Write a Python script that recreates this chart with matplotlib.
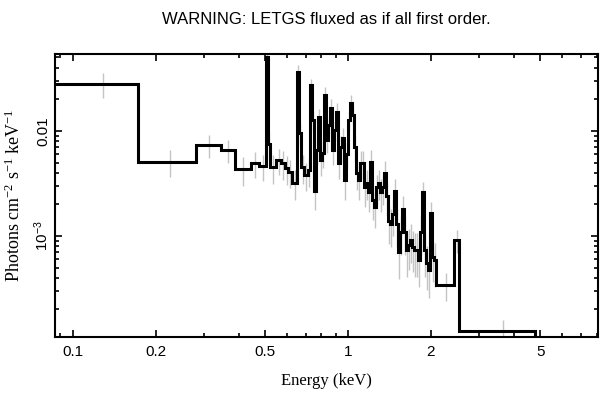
#!/usr/bin/env python3
# LETGS fluxed spectrum, step plot with error bars
import matplotlib
matplotlib.use("Agg")
import matplotlib.pyplot as plt
import numpy as np

# === DATA ===
# bin edges [keV]
edges = [0.084, 0.172, 0.280, 0.345, 0.388, 0.443, 0.475, 0.503, 0.512, 0.520,
         0.547, 0.571, 0.590, 0.605, 0.626, 0.652, 0.663, 0.675, 0.692, 0.715,
         0.727, 0.740, 0.752, 0.765, 0.778, 0.791, 0.804, 0.818, 0.832, 0.846,
         0.860, 0.875, 0.889, 0.904, 0.920, 0.935, 0.951, 0.967, 0.983, 1.000,
         1.017, 1.034, 1.051, 1.069, 1.087, 1.106, 1.124, 1.143, 1.163, 1.182,
         1.202, 1.222, 1.243, 1.264, 1.285, 1.307, 1.329, 1.352, 1.374, 1.398,
         1.421, 1.445, 1.470, 1.494, 1.520, 1.545, 1.571, 1.598, 1.625, 1.652,
         1.680, 1.709, 1.737, 1.767, 1.797, 1.827, 1.858, 1.889, 1.921, 1.954,
         1.987, 2.020, 2.054, 2.089, 2.43, 2.53, 4.79]

# flux per bin [photons cm^-2 s^-1 keV^-1]
flux = [0.028, 0.0051, 0.0073, 0.0066, 0.0043, 0.0049, 0.0046, 0.0507, 0.0075, 0.0045,
        0.0053, 0.0049, 0.0044, 0.0041, 0.0032, 0.0365, 0.0096, 0.0045, 0.0038, 0.0042,
        0.0274, 0.0127, 0.0027, 0.0066, 0.0136, 0.0053, 0.0062, 0.0220, 0.0082, 0.0114,
        0.0166, 0.0066, 0.0102, 0.0152, 0.0050, 0.0070, 0.0086, 0.0034, 0.0060, 0.0127,
        0.0185, 0.0142, 0.0070, 0.0040, 0.0034, 0.0050, 0.0050, 0.0029, 0.0032, 0.0026,
        0.0051, 0.0022, 0.0019, 0.0029, 0.0032, 0.0026, 0.0029, 0.0040, 0.0024, 0.0014,
        0.0013, 0.0016, 0.0027, 0.0013, 0.0007, 0.0011, 0.0018, 0.0011, 0.00074, 0.00082,
        0.00092, 0.00079, 0.00074, 0.00074, 0.00059, 0.0011, 0.0026, 0.00074, 0.00055, 0.00047,
        0.00166, 0.00063, 0.00059, 0.00034, 0.00092, 0.000124]

# relative 1-sigma errors per bin
rel_err = [0.27, 0.28, 0.25, 0.25, 0.30, 0.28, 0.28, 0.12, 0.30, 0.30,
           0.28, 0.30, 0.30, 0.30, 0.32, 0.15, 0.25, 0.30, 0.30, 0.30,
           0.15, 0.22, 0.35, 0.28, 0.20, 0.30, 0.28, 0.18, 0.25, 0.22,
           0.20, 0.28, 0.22, 0.20, 0.30, 0.28, 0.25, 0.35, 0.28, 0.22,
           0.18, 0.20, 0.28, 0.32, 0.35, 0.30, 0.30, 0.35, 0.32, 0.35,
           0.28, 0.35, 0.38, 0.32, 0.32, 0.35, 0.32, 0.28, 0.35, 0.40,
           0.40, 0.38, 0.30, 0.40, 0.45, 0.40, 0.32, 0.40, 0.45, 0.42,
           0.40, 0.42, 0.45, 0.45, 0.45, 0.40, 0.25, 0.45, 0.45, 0.45,
           0.28, 0.42, 0.45, 0.30, 0.25, 0.27]

x_major = [0.1, 0.2, 0.5, 1, 2, 5]
x_major_labels = ["0.1", "0.2", "0.5", "1", "2", "5"]
x_minor = [0.09, 0.3, 0.4, 0.6, 0.7, 0.8, 0.9, 3, 4, 6, 7, 8]
y_major = [1e-3, 1e-2]
y_major_labels = [r"$\mathregular{10^{-3}}$", "0.01"]

TITLE = "WARNING: LETGS fluxed as if all first order."

plt.rcParams["font.family"] = ["Liberation Sans", "DejaVu Sans"]

edges = np.array(edges)
flux = np.array(flux)
centers = 0.5 * (edges[:-1] + edges[1:])
yerr = flux * np.array(rel_err)

fig = plt.figure(figsize=(6.08, 3.99), dpi=100)
ax = fig.add_axes([0.0905, 0.1554, 0.8931, 0.7093])

ax.errorbar(centers, flux, yerr=yerr, fmt="none", ecolor="#c4c4c4",
            elinewidth=1.0, zorder=1)
ax.stairs(flux, edges, baseline=1e-6, color="black", linewidth=2.2, zorder=2)

ax.set_xscale("log")
ax.set_yscale("log")
ax.set_xlim(0.086, 8.1)
ax.set_ylim(1.09e-4, 0.054)

ax.set_xticks(x_major, labels=x_major_labels)
ax.set_xticks(x_minor, minor=True)
ax.set_xticklabels([], minor=True)
ax.set_yticks(y_major, labels=y_major_labels)
ax.yaxis.set_minor_locator(matplotlib.ticker.LogLocator(base=10, subs=np.arange(2, 10)))
ax.yaxis.set_minor_formatter(matplotlib.ticker.NullFormatter())

ax.tick_params(which="both", direction="in", top=True, right=True,
               width=1.2, labelsize=11)
ax.tick_params(which="major", length=5)
ax.tick_params(which="minor", length=3)
ax.tick_params(axis="x", pad=6)
ax.tick_params(axis="y", pad=3)
for lab in ax.get_yticklabels():
    lab.set_rotation(90)
    lab.set_va("center")

for s in ax.spines.values():
    s.set_linewidth(1.5)

ax.set_xlabel("Energy (keV)", family="Liberation Serif", fontsize=12, labelpad=10)
ax.set_ylabel(r"Photons cm$\mathregular{^{-2}}$ s$\mathregular{^{-1}}$ keV$\mathregular{^{-1}}$",
              family="Liberation Serif", fontsize=13)
ax.yaxis.set_label_coords(-0.058, 0.5)
fig.text(0.537, 0.952, TITLE, ha="center", va="center", fontsize=12)

fig.savefig("out.png", dpi=100)
